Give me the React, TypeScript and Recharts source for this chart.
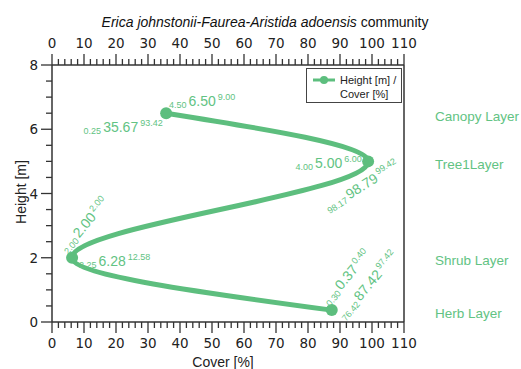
import React from 'react';
import { LineChart, Line, XAxis, YAxis, Legend } from 'recharts';

// layers from bottom to top
const layers = ['Herb Layer', 'Shrub Layer', 'Tree1Layer', 'Canopy Layer'];
const coverMean = [87.42, 6.28, 98.79, 35.67];
const coverMin = [76.42, 2.25, 98.17, 0.25];
const coverMax = [97.42, 12.58, 99.42, 93.42];
const heightMean = [0.37, 2.0, 5.0, 6.5];
const heightMin = [0.3, 2.0, 4.0, 4.5];
const heightMax = [0.4, 2.0, 6.0, 9.0];

const xTicks = Array.from({ length: 56 }, (_, i) => i * 2);
const yTicks = Array.from({ length: 17 }, (_, i) => i * 0.5);

const data = layers.map((layer, i) => ({
  layer,
  cover: coverMean[i],
  height: heightMean[i],
}));

const GREEN = '#5DBE7E';
const TEXT_GREEN = '#62C383';
const AXIS = '#333333';
const SANS = '"Liberation Sans", Arial, Helvetica, sans-serif';
const TICK_FONT = '"DejaVu Sans", Verdana, sans-serif';

// where the stat labels sit around each point (center of the big number)
const annoLayout = [
  { h: { dx: 14.5, dy: -33, angle: -50 }, c: { dx: 36, dy: -25, angle: -50 } },
  { h: { dx: 12, dy: -33, angle: -50 }, c: { dx: 40, dy: 3, angle: 0 } },
  { h: { dx: -39.5, dy: 1.5, angle: 0 }, c: { dx: -6.5, dy: 24.5, angle: -32 } },
  { h: { dx: 36, dy: -12, angle: 0 }, c: { dx: -45.5, dy: 14, angle: 0 } },
];

const fmt = (v: number) => v.toFixed(2);
const textWidth = (s: string, size: number) =>
  s.split('').reduce((w, ch) => w + (ch === '.' ? 0.278 : 0.556), 0) * size;

const Stats = ({ x, y, pos, lo, mid, hi }: any) => {
  const half = textWidth(mid, 14) / 2;
  return (
    <g transform={`translate(${x + pos.dx},${y + pos.dy}) rotate(${pos.angle})`} fill={TEXT_GREEN} fontFamily={SANS}>
      <text x={-half - 2} y={7} fontSize={9} textAnchor="end">{lo}</text>
      <text x={0} y={5} fontSize={14} textAnchor="middle">{mid}</text>
      <text x={half + 2} y={-1} fontSize={9} textAnchor="start">{hi}</text>
    </g>
  );
};

const renderDot = (props: any) => {
  const { cx, cy, index } = props;
  const lay = annoLayout[index];
  return (
    <g key={`dot-${index}`}>
      <circle cx={cx} cy={cy} r={6} fill={GREEN} />
      <Stats x={cx} y={cy} pos={lay.h} lo={fmt(heightMin[index])} mid={fmt(heightMean[index])} hi={fmt(heightMax[index])} />
      <Stats x={cx} y={cy} pos={lay.c} lo={fmt(coverMin[index])} mid={fmt(coverMean[index])} hi={fmt(coverMax[index])} />
      <text x={435} y={cy + 7.5} fontSize={13.5} fill={TEXT_GREEN} fontFamily={SANS}>
        {layers[index]}
      </text>
    </g>
  );
};

const BottomTick = ({ x, y, payload }: any) => {
  const v = payload.value;
  const major = v % 10 === 0;
  return (
    <g>
      <line x1={x} x2={x} y1={y} y2={y + (major ? 11 : 6)} stroke={AXIS} strokeWidth={1.3} />
      {major && (
        <text x={x} y={y + 26} textAnchor="middle" fontSize={13.5} fontFamily={TICK_FONT} fill="#222">{v}</text>
      )}
    </g>
  );
};

const TopTick = ({ x, y, payload }: any) => {
  const v = payload.value;
  const major = v % 10 === 0;
  return (
    <g>
      <line x1={x} x2={x} y1={y} y2={y - (major ? 11 : 6)} stroke={AXIS} strokeWidth={1.3} />
      {major && (
        <text x={x} y={y - 17} textAnchor="middle" fontSize={13.5} fontFamily={TICK_FONT} fill="#222">{v}</text>
      )}
    </g>
  );
};

const LeftTick = ({ x, y, payload }: any) => {
  const v = payload.value;
  const major = v % 2 === 0;
  return (
    <g>
      <line x1={x} x2={x - (major ? 11 : 6)} y1={y} y2={y} stroke={AXIS} strokeWidth={1.3} />
      {major && (
        <text x={x - 14} y={y + 5} textAnchor="end" fontSize={13.5} fontFamily={TICK_FONT} fill="#222">{v}</text>
      )}
    </g>
  );
};

const RightTick = ({ x, y, payload }: any) => {
  const v = payload.value;
  const major = v % 2 === 0;
  return (
    <g>
      <line x1={x} x2={x + (major ? 11 : 6)} y1={y} y2={y} stroke={AXIS} strokeWidth={1.3} />
      {major && (
        <text x={x + 17} y={y + 5} textAnchor="start" fontSize={13.5} fontFamily={TICK_FONT} fill="#222">{v}</text>
      )}
    </g>
  );
};

const LegendBox = () => (
  <svg width={96} height={35}>
    <rect x={0.5} y={0.5} width={95} height={34} fill="#fff" stroke="#444" strokeWidth={1} />
    <line x1={7} x2={29} y1={12} y2={12} stroke={GREEN} strokeWidth={3} />
    <circle cx={18} cy={12} r={4} fill={GREEN} />
    <text x={34} y={15.5} fontSize={11} fontFamily={SANS} fill="#222">Height [m] /</text>
    <text x={34} y={29.5} fontSize={11} fontFamily={SANS} fill="#222">Cover [%]</text>
  </svg>
);

export default function App() {
  return (
    <div style={{ position: 'fixed', left: 0, top: 0, width: 521, height: 369, background: '#fff' }}>
      <LineChart
        width={521}
        height={369}
        data={data}
        margin={{ top: 25, right: 77, bottom: 7, left: 12 }}
      >
        <XAxis
          xAxisId="bottom"
          dataKey="cover"
          type="number"
          domain={[0, 110]}
          ticks={xTicks}
          interval={0}
          height={40}
          tickSize={0}
          tickMargin={0}
          tickLine={false}
          tick={<BottomTick />}
          axisLine={{ stroke: AXIS, strokeWidth: 1.5 }}
        />
        <XAxis
          xAxisId="top"
          dataKey="cover"
          type="number"
          orientation="top"
          domain={[0, 110]}
          ticks={xTicks}
          interval={0}
          height={40}
          tickSize={0}
          tickMargin={0}
          tickLine={false}
          tick={<TopTick />}
          axisLine={{ stroke: AXIS, strokeWidth: 1.5 }}
        />
        <YAxis
          yAxisId="left"
          type="number"
          domain={[0, 8]}
          ticks={yTicks}
          interval={0}
          width={40}
          tickSize={0}
          tickMargin={0}
          tickLine={false}
          tick={<LeftTick />}
          axisLine={{ stroke: AXIS, strokeWidth: 1.5 }}
        />
        <YAxis
          yAxisId="right"
          orientation="right"
          type="number"
          domain={[0, 8]}
          ticks={yTicks}
          interval={0}
          width={40}
          tickSize={0}
          tickMargin={0}
          tickLine={false}
          tick={<RightTick />}
          axisLine={{ stroke: AXIS, strokeWidth: 1.5 }}
        />
        <Legend
          layout="vertical"
          align="center"
          verticalAlign="middle"
          content={<LegendBox />}
          wrapperStyle={{ position: 'absolute', left: 306, top: 68, width: 96, height: 35 }}
        />
        <Line
          xAxisId="bottom"
          yAxisId="left"
          dataKey="height"
          name="Height [m] / Cover [%]"
          type="monotoneY"
          stroke={GREEN}
          strokeWidth={5}
          dot={renderDot}
          activeDot={false}
          isAnimationActive={false}
        />
      </LineChart>
      <svg width={521} height={369} style={{ position: 'absolute', left: 0, top: 0, pointerEvents: 'none' }}>
        <text x={265} y={27} textAnchor="middle" fontSize={14} fontFamily={SANS} fill="#111">
          <tspan fontStyle="italic">Erica johnstonii-Faurea-Aristida adoensis</tspan>
          <tspan> community</tspan>
        </text>
        <text x={223} y={367} textAnchor="middle" fontSize={14} fontFamily={SANS} fill="#222">Cover [%]</text>
        <text
          x={26}
          y={192}
          textAnchor="middle"
          fontSize={14}
          fontFamily={SANS}
          fill="#222"
          transform="rotate(-90 26 192)"
        >
          Height [m]
        </text>
      </svg>
    </div>
  );
}
